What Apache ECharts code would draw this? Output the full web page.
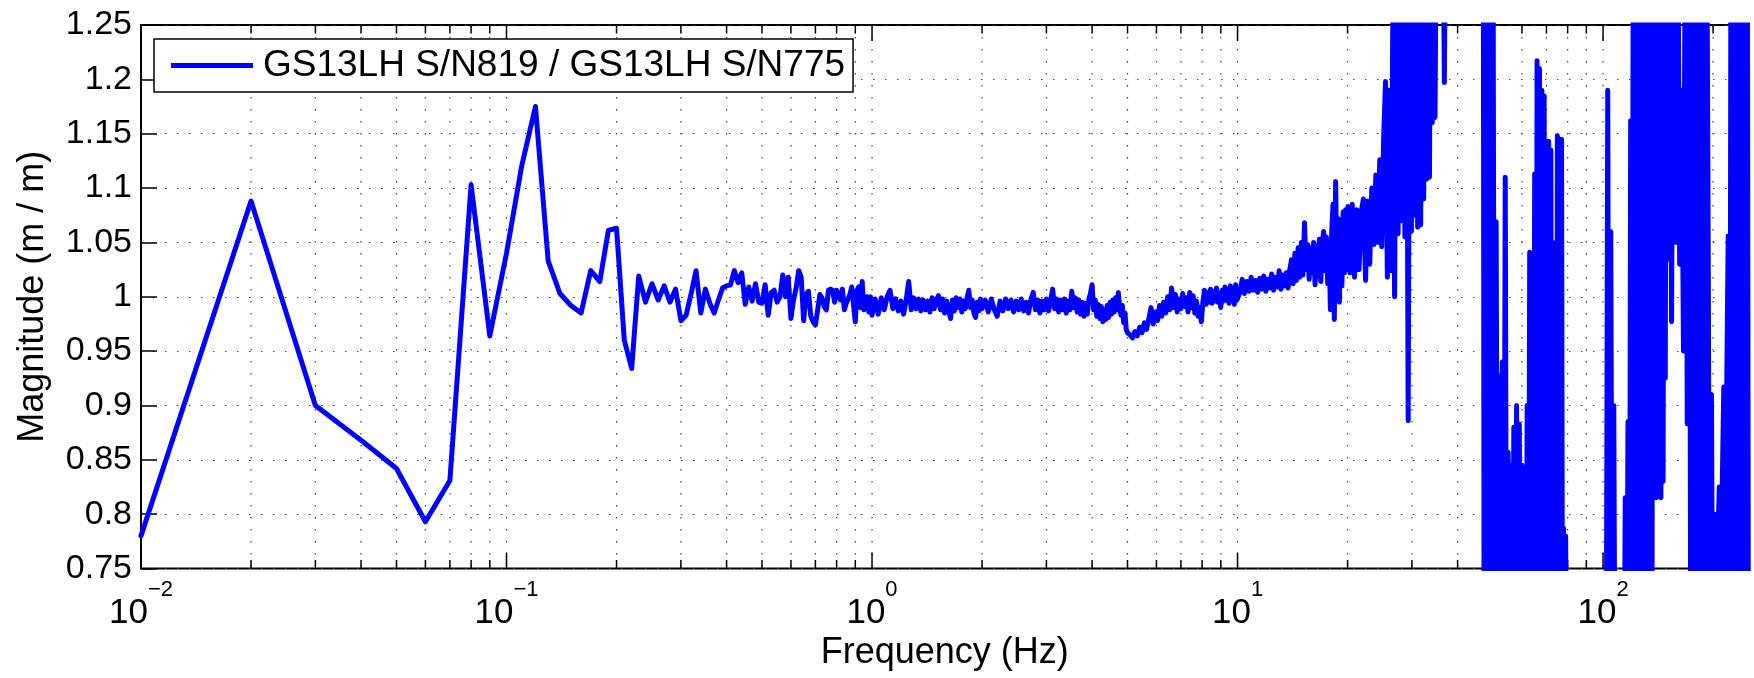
<!DOCTYPE html>
<html>
<head>
<meta charset="utf-8">
<script src="https://cdn.jsdelivr.net/npm/echarts@6/dist/echarts.min.js"></script>
<style>
html,body{margin:0;padding:0;background:#fff;}
#chart{width:1754px;height:678px;}
</style>
</head>
<body>
<div id="chart"></div>
<script>
// ---------------- data (frequency Hz, magnitude m/m) ----------------
const seriesName = 'GS13LH S/N819 / GS13LH S/N775';
const xAxisTitle = 'Frequency (Hz)';
const yAxisTitle = 'Magnitude (m / m)';
const xMin = 0.01, xMax = 250;
const yMin = 0.75, yMax = 1.25, yStep = 0.05;
const xDecades = [-2, -1, 0, 1, 2];
const xMinorMultipliers = [1, 2, 3, 4, 5, 6, 7, 8, 9];

// 0.01 - 1 Hz
const band1 = [[0.01,0.780],[0.02,1.088],[0.03,0.900],[0.04,0.868],[0.05,0.842],[0.06,0.793],[0.07,0.831],[0.08,1.103],[0.09,0.964],[0.10,1.040],
[0.11,1.120],[0.12,1.175],[0.13,1.033],[0.14,1.003],[0.15,0.992],[0.16,0.985],[0.17,1.024],[0.18,1.014],[0.19,1.061],[0.20,1.063],
[0.21,0.960],[0.22,0.934],[0.23,1.019],[0.24,0.995],[0.25,1.012],[0.26,0.997],[0.27,1.010],[0.28,0.995],[0.29,1.007],[0.30,0.978],
[0.31,0.983],[0.32,1.003],[0.33,1.024],[0.34,0.985],[0.35,1.007],[0.36,0.994],[0.37,0.985],[0.38,0.997],[0.39,1.008],[0.40,1.010],
[0.41,1.011],[0.42,1.024],[0.43,1.013],[0.44,1.022],[0.45,0.993],[0.46,1.009],[0.47,0.996],[0.48,1.012],[0.49,0.995],[0.50,0.994],
[0.51,1.011],[0.52,0.983],[0.53,1.004],[0.54,1.006],[0.55,0.995],[0.56,1.000],[0.57,1.020],[0.58,1.000],[0.59,1.018],[0.60,0.980],
[0.61,0.997],[0.62,1.008],[0.63,1.024],[0.64,1.018],[0.65,0.978],[0.66,1.002],[0.67,1.005],[0.68,0.982],[0.69,0.977],[0.70,0.974],
[0.71,0.988],[0.72,1.002],[0.73,0.999],[0.74,0.991],[0.75,0.988],[0.76,1.006],[0.77,1.007],[0.78,1.006],[0.79,0.995],[0.80,1.006],
[0.81,1.006],[0.82,0.997],[0.83,1.007],[0.84,0.988],[0.85,0.994],[0.86,0.998],[0.87,1.002],[0.88,1.009],[0.89,1.008],[0.90,0.977],
[0.91,1.006],[0.92,1.009],[0.93,0.990],[0.94,1.014],[0.95,0.988],[0.96,0.997],[0.97,1.000],[0.98,0.986],[0.99,1.000],[1.00,0.983]];

// 1 - 2 Hz
const band2 = [[1.02,0.998],[1.04,0.984],[1.06,0.999],[1.08,0.988],[1.10,1.000],[1.12,1.006],[1.14,0.989],[1.16,0.998],[1.18,0.987],[1.20,0.996],
[1.22,0.984],[1.24,0.997],[1.26,1.014],[1.28,0.988],[1.30,0.999],[1.32,0.989],[1.34,0.998],[1.36,0.987],[1.38,0.997],[1.40,0.988],
[1.42,0.996],[1.44,0.986],[1.46,0.999],[1.48,0.989],[1.50,0.997],[1.52,1.001],[1.54,0.988],[1.56,0.998],[1.58,0.985],[1.60,0.996],
[1.62,0.988],[1.64,0.980],[1.66,0.997],[1.68,0.987],[1.70,0.999],[1.72,0.990],[1.74,0.998],[1.76,0.986],[1.78,0.996],[1.80,0.989],
[1.82,0.999],[1.84,1.006],[1.86,0.990],[1.88,0.997],[1.90,0.985],[1.92,0.981],[1.94,0.995],[1.96,0.987],[1.98,0.998],[2.00,0.989]];

// 2 - 5 Hz
const band3 = [[2.04,0.997],[2.08,0.986],[2.12,0.998],[2.16,0.988],[2.20,0.982],[2.24,0.996],[2.28,0.987],[2.32,0.998],[2.36,0.989],[2.40,0.997],
[2.44,0.986],[2.48,0.996],[2.52,0.988],[2.56,0.998],[2.60,0.987],[2.64,0.995],[2.68,0.985],[2.72,0.997],[2.76,1.004],[2.80,0.988],
[2.84,0.997],[2.88,0.985],[2.92,0.996],[2.96,0.988],[3.00,0.998],[3.04,0.987],[3.08,0.996],[3.12,1.007],[3.16,0.989],[3.20,0.998],
[3.24,0.986],[3.28,0.997],[3.32,0.988],[3.36,0.998],[3.40,0.985],[3.44,0.996],[3.48,0.988],[3.52,1.005],[3.56,0.990],[3.60,0.999],
[3.64,0.986],[3.68,0.997],[3.72,0.984],[3.76,0.995],[3.80,0.982],[3.84,0.994],[3.88,0.984],[3.92,0.998],[3.96,1.003],[4.00,1.011],
[4.04,0.988],[4.08,0.997],[4.12,0.982],[4.16,0.993],[4.20,0.980],[4.24,0.991],[4.28,0.977],[4.32,0.988],[4.36,0.979],[4.40,0.992],
[4.44,0.981],[4.48,0.995],[4.52,0.984],[4.56,0.997],[4.60,0.986],[4.64,0.999],[4.68,0.988],[4.72,1.004],[4.76,0.990],[4.80,0.983],
[4.84,0.992],[4.88,0.976],[4.92,0.985],[4.96,0.970],[5.00,0.967]];

// 5 - 10 Hz
const band4 = [[5.08,0.965],[5.16,0.962],[5.24,0.968],[5.32,0.964],[5.40,0.972],[5.48,0.967],[5.56,0.976],[5.64,0.970],[5.72,0.980],[5.80,0.990],
[5.88,0.975],[5.96,0.986],[6.04,0.978],[6.12,0.992],[6.20,0.982],[6.28,0.995],[6.36,0.985],[6.44,1.000],[6.52,0.988],[6.60,1.008],
[6.68,0.990],[6.76,1.002],[6.84,0.986],[6.92,0.998],[7.00,0.989],[7.08,1.003],[7.16,0.991],[7.24,0.999],[7.32,0.986],[7.40,1.004],
[7.48,0.990],[7.56,1.001],[7.64,0.985],[7.72,0.996],[7.80,0.982],[7.88,0.990],[7.96,0.977],[8.04,0.995],[8.12,1.006],[8.20,0.993],
[8.28,1.004],[8.36,0.995],[8.44,1.007],[8.52,0.994],[8.60,1.005],[8.68,0.996],[8.76,1.008],[8.84,0.995],[8.92,1.003],[9.00,0.990],
[9.08,1.006],[9.16,0.996],[9.24,1.009],[9.32,0.997],[9.40,1.007],[9.48,0.994],[9.56,1.010],[9.64,0.998],[9.72,1.008],[9.80,0.993],
[9.88,1.011],[9.96,0.997]];

// 10 - 20 Hz
const band5 = [[10.15,1.004],[10.30,1.016],[10.45,1.003],[10.60,1.014],[10.75,1.005],[10.90,1.018],[11.05,1.006],[11.20,1.015],[11.35,1.004],[11.50,1.017],
[11.65,1.007],[11.80,1.019],[11.95,1.005],[12.10,1.016],[12.25,1.008],[12.40,1.021],[12.55,1.006],[12.70,1.018],[12.85,1.009],[13.00,1.024],
[13.15,1.007],[13.30,1.020],[13.45,1.010],[13.60,1.022],[13.75,1.008],[13.90,1.025],[14.05,1.034],[14.20,1.012],[14.35,1.040],[14.50,1.015],
[14.65,1.045],[14.80,1.018],[14.95,1.050],[15.10,1.020],[15.25,1.068],[15.40,1.025],[15.55,1.048],[15.70,1.016],[15.85,1.045],[16.00,1.022],
[16.15,1.050],[16.30,1.011],[16.45,1.047],[16.60,1.019],[16.75,1.053],[16.90,1.014],[17.05,1.048],[17.20,1.060],[17.35,1.024],[17.50,1.055],
[17.65,1.012],[17.80,1.050],[17.95,0.988],[18.10,1.060],[18.25,1.085],[18.40,0.979],[18.55,1.106],[18.70,1.020],[18.85,1.072],[19.00,0.995],
[19.15,1.070],[19.30,1.010],[19.45,1.078],[19.60,1.022],[19.75,1.080],[19.90,1.025],[20.05,1.083]];

// 20 - 50 Hz
const band6 = [[20.3,1.022],[20.6,1.085],[20.9,1.018],[21.2,1.080],[21.5,1.025],[21.8,1.078],[22.1,1.090],[22.4,1.015],[22.7,1.088],[23.0,1.030],
[23.3,1.100],[23.6,1.048],[23.9,1.112],[24.2,1.050],[24.5,1.126],[24.8,1.046],[25.1,1.146],[25.4,1.198],[25.7,1.018],[26.0,1.190],
[26.3,1.024],[26.6,1.260],[26.9,1.000],[27.2,1.300],[27.5,1.058],[27.8,1.320],[28.1,1.070],[28.4,1.350],[28.7,1.055],[29.0,1.330],
[29.3,0.886],[29.6,1.340],[29.9,1.060],[30.2,1.360],[30.5,1.075],[30.8,1.330],[31.1,1.064],[31.4,1.350],[31.7,1.066],[32.0,1.340],
[32.3,1.090],[32.6,1.360],[32.9,1.108],[33.2,1.330],[33.5,1.110],[33.8,1.350],[34.1,1.160],[34.4,1.340],[34.7,1.165],[35.0,1.360],
[35.3,1.300],[35.6,1.380],[35.9,1.340],[36.2,1.320],[36.5,1.360],[36.8,1.197],[37.1,1.360],[37.4,1.400],[37.7,1.330],[38.0,1.450],
[38.3,1.360],[38.6,1.500],[38.9,1.380],[39.2,1.420],[39.5,1.340],[39.8,1.480],[40.1,1.400],[40.4,1.550],[40.7,1.370],[41.0,1.440],
[41.3,1.350],[41.6,1.520],[41.9,1.410],[42.2,1.470],[42.5,1.360],[42.8,1.430],[43.1,1.340],[43.4,1.490],[43.7,1.390],[44.0,1.460],
[44.3,1.350],[44.6,1.510],[44.9,1.400],[45.2,1.440],[45.5,1.330],[45.8,1.470],[46.1,1.380],[46.4,1.420],[46.7,1.360],[47.0,1.450],
[47.3,0.600],[47.6,1.400],[47.9,0.550],[48.2,1.450],[48.5,0.600],[48.8,1.400],[49.1,0.550],[49.4,1.380],[49.7,0.600],[50.0,1.350]];

// 50 - 80 Hz
const band7 = [[50.5,0.600],[51.0,1.069],[51.5,0.580],[52.0,0.927],[52.5,0.600],[53.0,0.940],[53.5,0.550],[54.0,1.110],[54.5,0.600],[55.0,0.857],
[55.5,0.580],[56.0,0.845],[56.5,0.620],[57.0,0.880],[57.5,0.550],[58.0,0.900],[58.5,0.600],[59.0,0.883],[59.5,0.580],[60.0,0.845],
[60.5,0.600],[61.0,0.832],[61.5,0.550],[62.0,0.900],[62.5,0.600],[63.0,1.041],[63.5,0.580],[64.0,1.035],[64.5,0.600],[65.0,1.113],
[65.5,0.550],[66.0,1.217],[66.5,0.600],[67.0,1.210],[67.5,0.580],[68.0,1.190],[68.5,0.600],[69.0,1.185],[69.5,0.600],[70.0,1.064],
[70.5,0.580],[71.0,1.143],[71.5,0.600],[72.0,1.135],[72.5,0.550],[73.0,1.050],[73.5,0.600],[74.0,1.048],[74.5,0.580],[75.0,1.148],
[75.5,0.600],[76.0,1.140],[76.5,0.550],[77.0,1.145],[77.5,0.600],[78.0,0.787],[78.5,0.550],[79.0,0.780],[79.5,0.600],[80.0,0.620]];

// 80 - 150 Hz
const band8 = [[81,0.55],[82,0.62],[83,0.55],[84,0.60],[85,0.56],[86,0.62],[87,0.55],[88,0.60],[89,0.57],[90,0.62],
[91,0.55],[92,0.60],[93,0.56],[94,0.62],[95,0.55],[96,0.60],[97,0.57],[98,0.62],[99,0.55],[100,0.60],
[101,0.56],[102,0.62],[103,1.190],[104,0.58],[105,1.060],[106,0.60],[107,0.900],[108,0.55],[109,0.62],[110,0.56],
[111,0.60],[112,0.55],[113,0.62],[114,0.56],[115,0.815],[116,0.58],[117,0.885],[118,0.55],[119,1.162],[120,0.60],
[121,1.40],[122,0.55],[123,1.45],[124,0.60],[125,1.40],[126,0.55],[127,1.42],[128,0.58],[129,1.45],[130,0.55],
[131,1.40],[132,0.60],[133,1.43],[134,0.55],[135,1.40],[136,0.58],[137,1.45],[138,0.930],[139,1.40],[140,0.815],
[141,1.42],[142,0.820],[143,1.40],[144,0.815],[145,1.45],[146,0.830],[147,1.40],[148,0.925],[149,1.42],[150,1.034]];

// 150 - 250 Hz
const band9 = [[152,1.40],[154,0.977],[156,1.45],[158,1.050],[160,1.40],[162,1.030],[164,1.190],[166,0.950],[168,1.40],[170,0.883],
[172,1.42],[174,0.55],[176,1.45],[178,0.58],[180,1.40],[182,0.55],[184,1.42],[186,0.60],[188,1.45],[190,0.55],
[192,1.40],[194,1.040],[196,0.60],[198,0.910],[200,0.55],[202,0.800],[204,0.58],[206,0.770],[208,0.825],[210,0.60],
[212,0.830],[214,0.917],[216,0.58],[218,0.920],[220,1.056],[222,0.60],[224,1.40],[226,0.55],[228,1.45],[230,0.58],
[232,1.42],[234,0.55],[236,1.40],[238,0.60],[240,1.45],[242,0.55],[244,1.40],[246,0.58],[248,1.42],[250,0.60]];

// ---------------- chart ----------------
const lineData = [].concat(band1, band2, band3, band4, band5, band6, band7, band8, band9);
const xGridValues = [];
xDecades.forEach(d => xMinorMultipliers.forEach(m => {
  const v = m * Math.pow(10, d);
  if (v >= xMin - 1e-12 && v <= xMax + 1e-9) xGridValues.push(v);
}));
const isDecade = v => Math.abs(Math.log10(v) - Math.round(Math.log10(v))) < 1e-6;

const FONT = '"Liberation Sans", Arial, Helvetica, sans-serif';
const chart = echarts.init(document.getElementById('chart'), null, {renderer: 'canvas'});
const dotted = [1.5, 10.5];

chart.setOption({
  animation: false,
  backgroundColor: '#ffffff',
  textStyle: {fontFamily: FONT},
  grid: {left: 141, right: 5.5, top: 25, bottom: 109.5, show: true, borderColor: '#000', borderWidth: 2, backgroundColor: 'transparent'},
  legend: {
    left: 154, top: 39,
    padding: [8, 8, 8, 17],
    itemWidth: 82, itemHeight: 5, icon: 'rect',
    borderColor: '#000', borderWidth: 1.5, backgroundColor: '#fff',
    textStyle: {fontSize: 37, color: '#000', fontFamily: FONT, padding: [0, 0, 0, 5]},
    data: [seriesName],
    selectedMode: false
  },
  xAxis: {
    type: 'log', logBase: 10, min: xMin, max: xMax,
    name: xAxisTitle, nameLocation: 'middle', nameGap: 63,
    nameTextStyle: {fontSize: 36, color: '#000', fontFamily: FONT},
    axisLine: {show: false},
    axisTick: {show: false},
    splitLine: {show: false},
    minorTick: {show: false},
    axisLabel: {
      margin: 10, color: '#000', showMaxLabel: false,
      formatter: v => {
        if (!isDecade(v)) return '';
        const e = Math.round(Math.log10(v));
        return '{b|10}{s|' + (e < 0 ? '\u2212' : '') + Math.abs(e) + '}';
      },
      rich: {
        b: {fontSize: 35, fontFamily: FONT, color: '#000', lineHeight: 52, verticalAlign: 'bottom'},
        s: {fontSize: 22, fontFamily: FONT, color: '#000', lineHeight: 52, verticalAlign: 'top'}
      }
    }
  },
  yAxis: [{
    type: 'value', min: yMin, max: yMax, interval: yStep,
    name: yAxisTitle, nameLocation: 'middle', nameGap: 90,
    nameTextStyle: {fontSize: 36, color: '#000', fontFamily: FONT},
    axisLine: {show: false},
    axisTick: {show: true, inside: true, length: 16, lineStyle: {color: '#000', width: 1.5}},
    axisLabel: {fontSize: 34, color: '#000', margin: 9, fontFamily: FONT,
      formatter: v => (Math.round(v * 100) / 100).toString()},
    splitLine: {show: true, lineStyle: {color: '#444', width: 1.2, type: dotted}}
  }, {
    type: 'value', min: yMin, max: yMax, interval: yStep, position: 'right',
    axisLine: {show: false},
    axisTick: {show: true, inside: true, length: 16, lineStyle: {color: '#000', width: 1.5}},
    axisLabel: {show: false},
    splitLine: {show: false}
  }],
  series: [{
    type: 'custom',
    name: 'xgrid',
    coordinateSystem: 'cartesian2d',
    xAxisIndex: 0, yAxisIndex: 0,
    silent: true, z: 1,
    data: xGridValues.map(v => [v, yMin]),
    renderItem: (params, api) => {
      const f = api.value(0);
      const top = api.coord([f, yMax]);
      const bot = api.coord([f, yMin]);
      const len = isDecade(f) ? 16 : 8.5;
      const children = [];
      if (Math.abs(f - xMin) > 1e-9) {
        children.push({type: 'line', shape: {x1: top[0], y1: top[1], x2: bot[0], y2: bot[1]},
          style: {stroke: '#444', lineWidth: 1.2, lineDash: dotted}});
      }
      children.push({type: 'line', shape: {x1: bot[0], y1: bot[1], x2: bot[0], y2: bot[1] - len},
        style: {stroke: '#000', lineWidth: 1.5}});
      children.push({type: 'line', shape: {x1: top[0], y1: top[1], x2: top[0], y2: top[1] + len},
        style: {stroke: '#000', lineWidth: 1.5}});
      return {type: 'group', children: children};
    }
  }, {
    type: 'line',
    name: seriesName,
    data: lineData,
    xAxisIndex: 0, yAxisIndex: 0,
    showSymbol: false, symbol: 'none',
    clip: true, z: 3,
    color: '#0000ff',
    lineStyle: {color: '#0000ff', width: 5, cap: 'round', join: 'round'},
    emphasis: {disabled: true}
  }]
});
</script>
</body>
</html>
